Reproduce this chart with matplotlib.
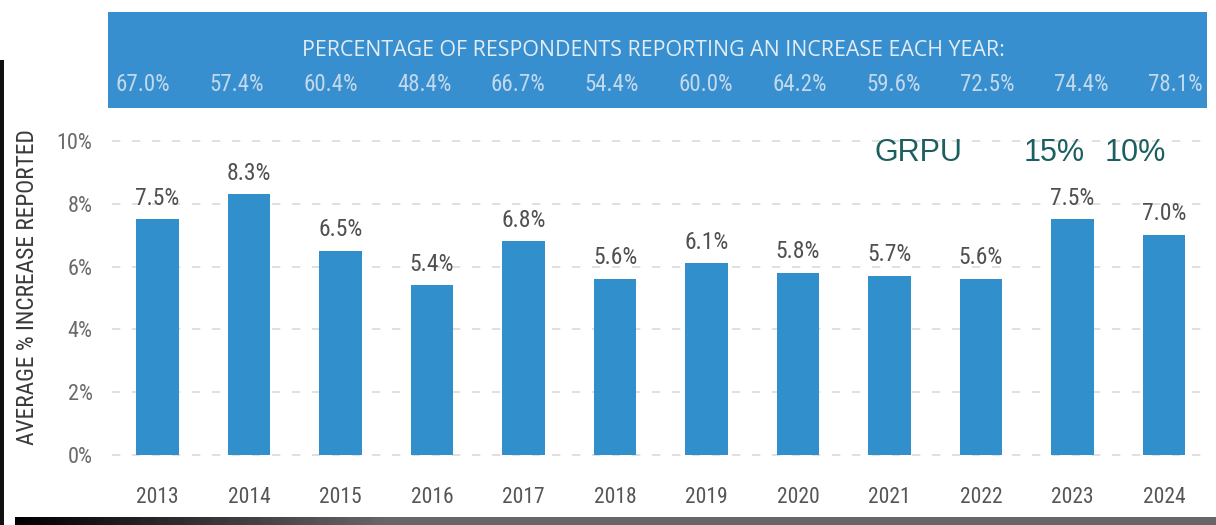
#!/usr/bin/env python3
"""Average reported increase per year, with the share of respondents reporting one."""

import matplotlib

matplotlib.use("Agg")
import matplotlib.pyplot as plt
import numpy as np
from matplotlib import font_manager
from matplotlib.patches import Rectangle


years = ["2013", "2014", "2015", "2016", "2017", "2018", "2019", "2020", "2021", "2022", "2023", "2024"]
avg_increase = [7.5, 8.3, 6.5, 5.4, 6.8, 5.6, 6.1, 5.8, 5.7, 5.6, 7.5, 7.0]
pct_reporting = [67.0, 57.4, 60.4, 48.4, 66.7, 54.4, 60.0, 64.2, 59.6, 72.5, 74.4, 78.1]
y_ticks = [0, 2, 4, 6, 8, 10]

BAR_BLUE = "#3190cc"
BANNER_BLUE = "#388fcf"
W, H = 1216, 525


def narrow_font() -> dict:
    names = {f.name for f in font_manager.fontManager.ttflist}
    for fam in ("Roboto Condensed", "Liberation Sans Narrow", "Open Sans Condensed"):
        if fam in names:
            return {"family": fam}
    return {"family": "DejaVu Sans", "stretch": "condensed"}


NARROW = narrow_font()


def fx(px: float) -> float:
    return px / W


def fy(py: float) -> float:
    return 1 - py / H


fig = plt.figure(figsize=(W / 100, H / 100), dpi=100)
fig.patch.set_facecolor("white")

# header band with yearly respondent shares
band = fig.add_axes([fx(108), fy(108), fx(1207) - fx(108), fy(12) - fy(108)])
band.set_facecolor(BANNER_BLUE)
band.set_xlim(-0.373, 11.343)
band.set_ylim(0, 1)
band.set_xticks([])
band.set_yticks([])
for s in band.spines.values():
    s.set_visible(False)
band.text(
    5.44, 0.60, "PERCENTAGE OF RESPONDENTS REPORTING AN INCREASE EACH YEAR:",
    ha="center", va="center", fontsize=15.4, color="#e3ecf3", family="Open Sans",
)
for i, v in enumerate(pct_reporting):
    band.text(i, 0.24, f"{v:.1f}%", ha="center", va="center", fontsize=16.5,
              color="#c2d9eb", **NARROW)

# main bar chart
ax = fig.add_axes([fx(112), fy(455), fx(1212) - fx(112), fy(141) - fy(455)])
x = np.arange(len(years))
ax.bar(x, avg_increase, width=0.46, color=BAR_BLUE, zorder=3)
for xi, v in zip(x, avg_increase):
    ax.annotate(f"{v:.1f}%", (xi, v), xytext=(0, 7), textcoords="offset points",
                ha="center", va="bottom", fontsize=17, color="#505050", **NARROW)

ax.set_xlim(-0.497, 11.525)
ax.set_ylim(0, 10)
ax.set_yticks(y_ticks, [f"{t}%" for t in y_ticks])
ax.set_xticks(x, years)
ax.tick_params(axis="y", length=0, pad=14, labelsize=16, labelcolor="#6a6a6a")
ax.tick_params(axis="x", length=0, pad=23, labelsize=15.5, labelcolor="#555555")
for lab in ax.get_xticklabels() + ax.get_yticklabels():
    lab.set_family(NARROW["family"])
    if "stretch" in NARROW:
        lab.set_stretch(NARROW["stretch"])
for t in y_ticks:
    ax.axhline(t, color="#dadada", linewidth=1.2, linestyle=(0, (5, 7)), zorder=1, clip_on=False)
for s in ax.spines.values():
    s.set_visible(False)

fig.text(fx(28), fy(287), "AVERAGE % INCREASE REPORTED", rotation=90, ha="center", va="center",
         fontsize=16.8, color="#3a3a3a", **NARROW)

# overlaid note
note_kw = dict(fontsize=22, color="#1d5e5f", family="Liberation Sans", va="center", ha="left")
fig.text(fx(875), fy(153), "GRPU", **note_kw)
fig.text(fx(1024), fy(153), "15%", **note_kw)
fig.text(fx(1105), fy(153), "10%", **note_kw)

# dark page edges
fig.patches.append(Rectangle((0, 0), fx(4), fy(60), transform=fig.transFigure,
                             facecolor="#111111", edgecolor="none", zorder=10))
grad = np.clip(np.linspace(0.0, 1.3, 400), 0, 0.4)[None, :]
edge = fig.add_axes([fx(15), 0, 1 - fx(15), fy(517)])
edge.imshow(grad, aspect="auto", cmap="gray", vmin=0, vmax=1, extent=(0, 1, 0, 1))
edge.axis("off")

fig.savefig("out.png", dpi=100)
